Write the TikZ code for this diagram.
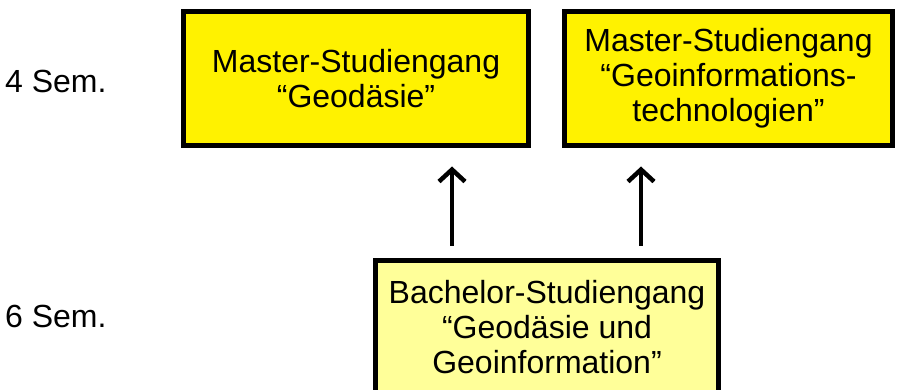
\documentclass[tikz,border=0pt]{standalone}
\usepackage{fontspec}
\setmainfont{Liberation Sans}
\usetikzlibrary{arrows.meta}
\begin{document}
\begin{tikzpicture}[x=1pt,y=-1pt,
  boxstyle/.style={draw=black, line width=5pt, inner sep=0pt, outer sep=0pt, align=center,
    font=\fontsize{32}{35}\selectfont},
  master/.style={boxstyle, fill=yellow},
  bachelor/.style={boxstyle, fill={rgb,255:red,255;green,255;blue,153}},
  semlabel/.style={anchor=base west, inner sep=0pt, font=\fontsize{32}{35}\selectfont},
  arr/.style={line width=4.5pt, -{Straight Barb[length=12pt,width=26pt,line width=4.5pt]}}]
\useasboundingbox (0,0) rectangle (899,390);
\node[master, minimum width=345pt, minimum height=134pt] (m1) at (356,78.5)
  {Master-Studiengang\\“Geodäsie”};
\node[master, minimum width=328pt, minimum height=134pt] (m2) at (728.5,78.5)
  {Master-Studiengang\\“Geoinformations-\\technologien”};
\node[bachelor, minimum width=343pt, minimum height=134pt] (b) at (547,327.5)
  {Bachelor-Studiengang\\“Geodäsie und\\Geoinformation”};
\node[semlabel] (s4) at (5,93) {4 Sem.};
\node[semlabel] (s6) at (5,327) {6 Sem.};
\coordinate (a1) at (452,0);
\coordinate (a2) at (641,0);
\draw[arr, shorten <=15pt, shorten >=21pt] (b.north -| a1) -- (m1.south -| a1);
\draw[arr, shorten <=15pt, shorten >=21pt] (b.north -| a2) -- (m2.south -| a2);
\end{tikzpicture}
\end{document}
